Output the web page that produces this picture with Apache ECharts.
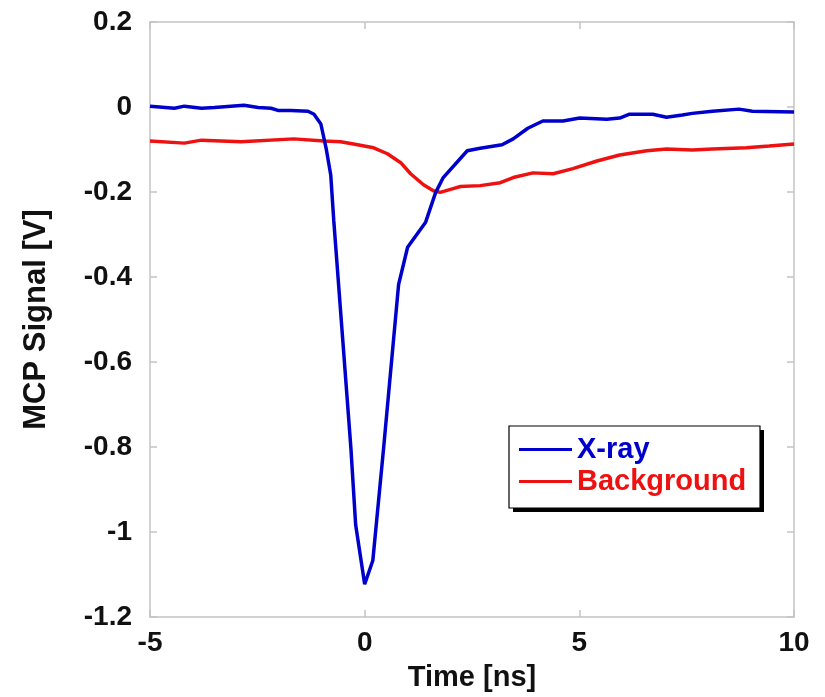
<!DOCTYPE html>
<html>
<head>
<meta charset="utf-8">
<script src="https://cdn.jsdelivr.net/npm/echarts@6/dist/echarts.min.js"></script>
<style>
html,body{margin:0;padding:0;background:#fff;}
#chart{width:825px;height:697px;}
</style>
</head>
<body>
<div id="chart"></div>
<script>
var xrayTime = [-5.0,-4.43,-4.2,-3.8,-3.5,-2.81,-2.48,-2.18,-2.02,-1.72,-1.32,-1.18,-1.02,-0.9,-0.79,-0.72,-0.32,-0.21,0,0.19,0.44,0.79,1.0,1.42,1.65,1.83,2.39,2.69,3.2,3.46,3.8,4.15,4.62,5.01,5.64,5.94,6.17,6.71,7.03,7.4,7.63,8.1,8.72,9.03,10.0];
var xrayValue = [0.002,-0.003,0.002,-0.003,-0.001,0.004,-0.001,-0.003,-0.008,-0.008,-0.010,-0.017,-0.040,-0.096,-0.16,-0.267,-0.804,-0.983,-1.123,-1.067,-0.804,-0.418,-0.33,-0.271,-0.202,-0.166,-0.103,-0.097,-0.089,-0.075,-0.05,-0.033,-0.033,-0.026,-0.029,-0.026,-0.017,-0.017,-0.024,-0.019,-0.015,-0.010,-0.005,-0.010,-0.012];
var bgTime = [-5.0,-4.2,-3.8,-2.88,-1.65,-0.95,-0.56,-0.26,0.21,0.53,0.84,1.07,1.37,1.6,1.76,2.06,2.23,2.69,3.16,3.46,3.92,4.39,4.85,5.41,5.94,6.57,7.03,7.63,8.1,8.89,9.42,10.0];
var bgValue = [-0.080,-0.085,-0.078,-0.082,-0.075,-0.080,-0.082,-0.087,-0.096,-0.11,-0.131,-0.157,-0.183,-0.197,-0.201,-0.192,-0.187,-0.185,-0.178,-0.166,-0.155,-0.157,-0.145,-0.127,-0.113,-0.103,-0.099,-0.101,-0.099,-0.096,-0.092,-0.087];
var seriesNames = ['X-ray','Background'];
var seriesColors = ['#0000cc','#ee1111'];
var xTitle = 'Time [ns]';
var yTitle = 'MCP Signal [V]';

function pairs(t, v){ var out=[]; for(var i=0;i<t.length;i++){ out.push([t[i], v[i]]); } return out; }

var FONT = '"Liberation Sans", Arial, sans-serif';
var axisGray = '#c4c4c4';
var chart = echarts.init(document.getElementById('chart'), null, {renderer:'canvas'});
var labelStyle = {fontFamily: FONT, fontWeight:'bold', fontSize:28, color:'#111'};
chart.setOption({
  animation:false,
  backgroundColor:'#fff',
  grid:{left:150, right:31, top:22, bottom:78, containLabel:false},
  xAxis:[{
    type:'value', min:-5, max:10, interval:5,
    name:xTitle, nameLocation:'middle', nameGap:46,
    nameTextStyle:{fontFamily:FONT, fontWeight:'bold', fontSize:29, color:'#111'},
    axisLine:{show:true, onZero:false, lineStyle:{color:axisGray, width:1.5}},
    axisTick:{show:true, inside:true, length:7, lineStyle:{color:axisGray, width:1.5}},
    axisLabel:Object.assign({margin:12}, labelStyle),
    splitLine:{show:false}
  },{
    type:'value', position:'top', min:-5, max:10, interval:5,
    axisLine:{show:true, onZero:false, lineStyle:{color:axisGray, width:1.5}},
    axisTick:{show:true, inside:true, length:7, lineStyle:{color:axisGray, width:1.5}},
    axisLabel:{show:false}, splitLine:{show:false}
  }],
  yAxis:[{
    type:'value', min:-1.2, max:0.2, interval:0.2,
    name:yTitle, nameLocation:'middle', nameGap:98, nameRotate:90,
    nameTextStyle:{fontFamily:FONT, fontWeight:'bold', fontSize:31, color:'#111'},
    axisLine:{show:true, onZero:false, lineStyle:{color:axisGray, width:1.5}},
    axisTick:{show:true, inside:true, length:7, lineStyle:{color:axisGray, width:1.5}},
    axisLabel:Object.assign({margin:18, formatter:function(v){ return String(Math.round(v*10)/10); }}, labelStyle),
    splitLine:{show:false}
  },{
    type:'value', position:'right', min:-1.2, max:0.2, interval:0.2,
    axisLine:{show:true, onZero:false, lineStyle:{color:axisGray, width:1.5}},
    axisTick:{show:true, inside:true, length:7, lineStyle:{color:axisGray, width:1.5}},
    axisLabel:{show:false}, splitLine:{show:false}
  }],
  graphic:[
    {type:'rect', z:1, shape:{x:513, y:430, width:251, height:82}, style:{fill:'#000'}},
    {type:'rect', z:2, shape:{x:509, y:426, width:251, height:82}, style:{fill:'#fff', stroke:'#000', lineWidth:1.2}}
  ],
  legend:{
    orient:'vertical', left:514, top:430, padding:5, itemGap:3,
    itemWidth:53, itemHeight:3, icon:'rect',
    textStyle:{fontFamily:FONT, fontWeight:'bold', fontSize:29, lineHeight:29},
    data:[
      {name:seriesNames[0], textStyle:{color:seriesColors[0]}},
      {name:seriesNames[1], textStyle:{color:seriesColors[1]}}
    ]
  },
  series:[
    {name:seriesNames[0], type:'line', data:pairs(xrayTime, xrayValue), showSymbol:false, symbol:'none',
     color:seriesColors[0], lineStyle:{color:seriesColors[0], width:3.5}, z:3},
    {name:seriesNames[1], type:'line', data:pairs(bgTime, bgValue), showSymbol:false, symbol:'none',
     color:seriesColors[1], lineStyle:{color:seriesColors[1], width:3.5}, z:2}
  ]
});
</script>
</body>
</html>
